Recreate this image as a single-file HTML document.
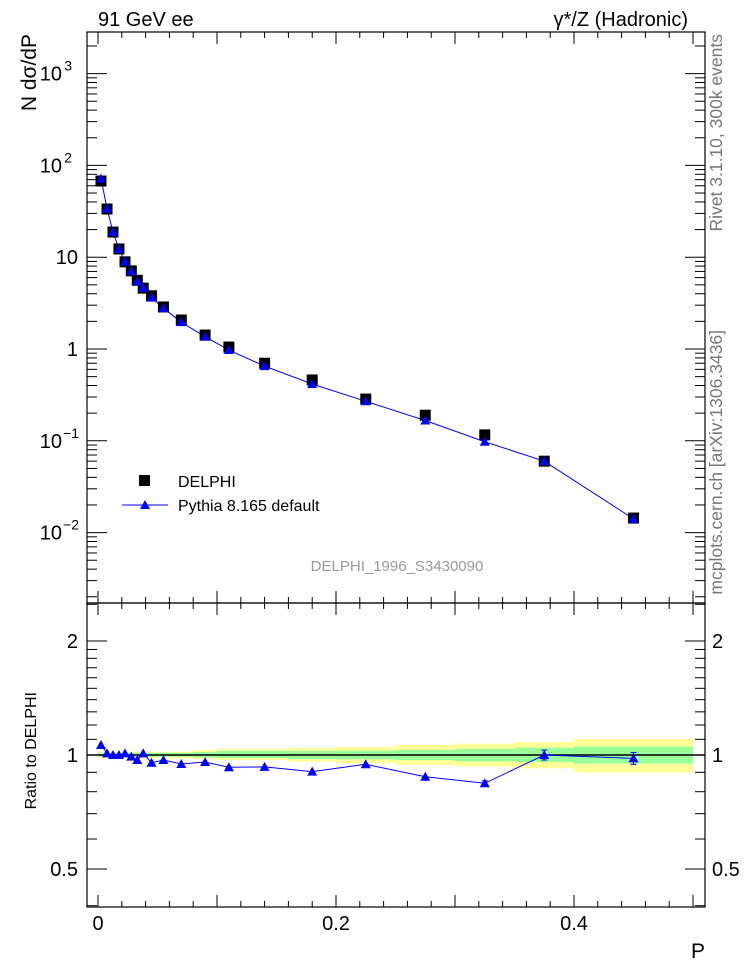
<!DOCTYPE html>
<html><head><meta charset="utf-8"><style>
body{margin:0;background:#fff;}
svg{display:block;font-family:"Liberation Sans",sans-serif;}
</style></head><body>
<svg id="c" width="746" height="972" xmlns="http://www.w3.org/2000/svg"></svg>
<script>
const xs=[0.0025,0.0076,0.0126,0.0176,0.0227,0.028,0.033,0.038,0.045,0.055,0.07,0.09,0.11,0.14,0.18,0.225,0.275,0.325,0.375,0.45];
const delphi=[67.6,33.5,18.8,12.3,8.9,7.1,5.6,4.6,3.8,2.87,2.07,1.42,1.05,0.70,0.46,0.285,0.19,0.116,0.06,0.0144];
const ratio=[1.063,1.01,1.0,1.0,1.01,0.99,0.97,1.01,0.954,0.97,0.947,0.958,0.928,0.93,0.904,0.945,0.876,0.842,1.0,0.98];
const ratioErr=[0,0,0,0,0,0,0,0,0,0,0,0,0,0,0,0,0,0.012,0.03,0.035];
const bandEdges=[0,0.08,0.1,0.16,0.2,0.25,0.3,0.35,0.4,0.5];
const yelLo=[0.980,0.974,0.970,0.960,0.951,0.941,0.932,0.922,0.898];
const yelHi=[1.020,1.031,1.037,1.045,1.050,1.063,1.071,1.082,1.102];
const grnLo=[0.990,0.986,0.982,0.976,0.974,0.970,0.962,0.958,0.949];
const grnHi=[1.014,1.018,1.025,1.025,1.027,1.031,1.037,1.045,1.052];
const xTicks=[0,0.2,0.4];
const xTickLabels=["0","0.2","0.4"];

const NS="http://www.w3.org/2000/svg";
const svg=document.getElementById('c');
const L=87,R=705,T1=32,B1=603,T2=603,B2=907;
const X=v=>98+v*1190;
const Y1=v=>349-Math.log10(v)*91.8;
const Y2=v=>755-Math.log2(v)*114;
function el(t,a,p){const e=document.createElementNS(NS,t);for(const k in a)e.setAttribute(k,a[k]);(p||svg).appendChild(e);return e;}
function txt(s,a){const e=el('text',a);e.textContent=s;return e;}

for(let i=0;i<yelLo.length;i++){
  const r=el('rect',{x:X(bandEdges[i]),y:Y2(yelHi[i]),width:X(bandEdges[i+1])-X(bandEdges[i]),height:Y2(yelLo[i])-Y2(yelHi[i]),fill:'#ffff99'});
  
  
  const g=el('rect',{x:X(bandEdges[i]),y:Y2(grnHi[i]),width:X(bandEdges[i+1])-X(bandEdges[i]),height:Y2(grnLo[i])-Y2(grnHi[i]),fill:'#99ff99'});
  
  
}
el('line',{x1:L,x2:R,y1:Y2(1),y2:Y2(1),stroke:'#000','stroke-width':1.5});

const f1=el('rect',{x:L,y:T1,width:R-L,height:B1-T1,fill:'none',stroke:'#000','stroke-width':1.2});

const f2=el('rect',{x:L,y:T2,width:R-L,height:B2-T2,fill:'none',stroke:'#000','stroke-width':1.2});


for(let v=0;v<=0.5001;v+=0.02){
  const major=Math.abs(v*10-Math.round(v*10))<1e-6;
  const len=major?12:6;
  [[T1,1],[B1,-1],[T2,1],[B2,-1]].forEach(([y,d])=>el('line',{x1:X(v),x2:X(v),y1:y,y2:y+d*len,stroke:'#000'}));
}
xTicks.forEach((v,i)=>{const t=txt(xTickLabels[i],{x:X(v),y:930,'font-size':20,'text-anchor':'middle'});
});

for(let e=-3;e<=3;e++){
  for(let m=1;m<10;m++){
    const v=m*Math.pow(10,e);const y=Y1(v);
    if(y<T1||y>B1)continue;
    const len=m==1?20:10;
    el('line',{x1:L,x2:L+len,y1:y,y2:y,stroke:'#000'});
    el('line',{x1:R,x2:R-len,y1:y,y2:y,stroke:'#000'});
  }
}
const ylab=[[3,'10','3'],[2,'10','2'],[1,'10',''],[0,'1',''],[-1,'10','−1'],[-2,'10','−2']];
ylab.forEach(([e,b,s])=>{
  const t=el('text',{x:s?62:78,y:Y1(Math.pow(10,e))+7,'font-size':20,'text-anchor':'end'});
  t.textContent=b;
  
  if(s){const u=el('text',{x:s.length>1?79:72,y:Y1(Math.pow(10,e))-3,'font-size':14,'text-anchor':'end'});u.textContent=s;}
});

[0.4,0.5,0.6,0.7,0.8,0.9,1,1.1,1.2,1.3,1.4,1.5,1.6,1.7,1.8,1.9,2,2.5].forEach(v=>{
  const y=Y2(v);if(y<T2||y>B2)return;
  const len=(v==0.5||v==1||v==2)?20:10;
  el('line',{x1:L,x2:L+len,y1:y,y2:y,stroke:'#000'});
  el('line',{x1:R,x2:R-len,y1:y,y2:y,stroke:'#000'});
});
[[2,'2'],[1,'1'],[0.5,'0.5']].forEach(([v,s])=>{
  txt(s,{x:78,y:Y2(v)+7,'font-size':20,'text-anchor':'end'});
  txt(s,{x:712,y:Y2(v)+7,'font-size':20});
});

el('polyline',{points:xs.map((x,i)=>X(x)+','+Y1(delphi[i]*ratio[i])).join(' '),fill:'none',stroke:'#0000ff','stroke-width':1});
xs.forEach((x,i)=>{
  const r=el('rect',{x:X(x)-5.5,y:Y1(delphi[i])-5.5,width:11,height:11,fill:'#000'});
  
});
function tri(cx,cy,nm){const p=el('polygon',{points:`${cx},${cy-5} ${cx-5},${cy+4} ${cx+5},${cy+4}`,fill:'#0000ff'});
}
xs.forEach((x,i)=>tri(X(x),Y1(delphi[i]*ratio[i]),'pythia-point'));

el('polyline',{points:xs.map((x,i)=>X(x)+','+Y2(ratio[i])).join(' '),fill:'none',stroke:'#0000ff','stroke-width':1});
xs.forEach((x,i)=>{
  if(ratioErr[i]>0){
    const a=Y2(ratio[i]+ratioErr[i]),b=Y2(ratio[i]-ratioErr[i]);
    el('line',{x1:X(x),x2:X(x),y1:a,y2:b,stroke:'#0000ff'});
    el('line',{x1:X(x)-3,x2:X(x)+3,y1:a,y2:a,stroke:'#0000ff'});
    el('line',{x1:X(x)-3,x2:X(x)+3,y1:b,y2:b,stroke:'#0000ff'});
  }
  tri(X(x),Y2(ratio[i]),'ratio-point');
});

el('rect',{x:139,y:475,width:11,height:11,fill:'#000',});
txt('DELPHI',{x:178,y:487,'font-size':16,});
el('line',{x1:122,x2:168,y1:505,y2:505,stroke:'#0000ff'});
tri(145,505,'legend-pythia-marker');
txt('Pythia 8.165 default',{x:178,y:511,'font-size':16,});

txt('91 GeV ee',{x:98,y:26,'font-size':20,});
txt('γ*/Z (Hadronic)',{x:688,y:26,'font-size':20,'text-anchor':'end',});
txt('DELPHI_1996_S3430090',{x:397,y:571,'font-size':15,fill:'#999','text-anchor':'middle',});
txt('N dσ/dP',{x:0,y:0,'font-size':21,'text-anchor':'end',transform:'translate(36,34) rotate(-90)',});
txt('Ratio to DELPHI',{x:0,y:0,'font-size':16,'text-anchor':'end',transform:'translate(36,692) rotate(-90)',});
txt('P',{x:705,y:958,'font-size':21,'text-anchor':'end',});
txt('Rivet 3.1.10,  300k events',{x:0,y:0,'font-size':17.5,fill:'#777','text-anchor':'end',transform:'translate(722,34) rotate(-90)',});
txt('mcplots.cern.ch [arXiv:1306.3436]',{x:0,y:0,'font-size':17.5,fill:'#777','text-anchor':'end',transform:'translate(722,330) rotate(-90)',});
</script>
</body></html>
